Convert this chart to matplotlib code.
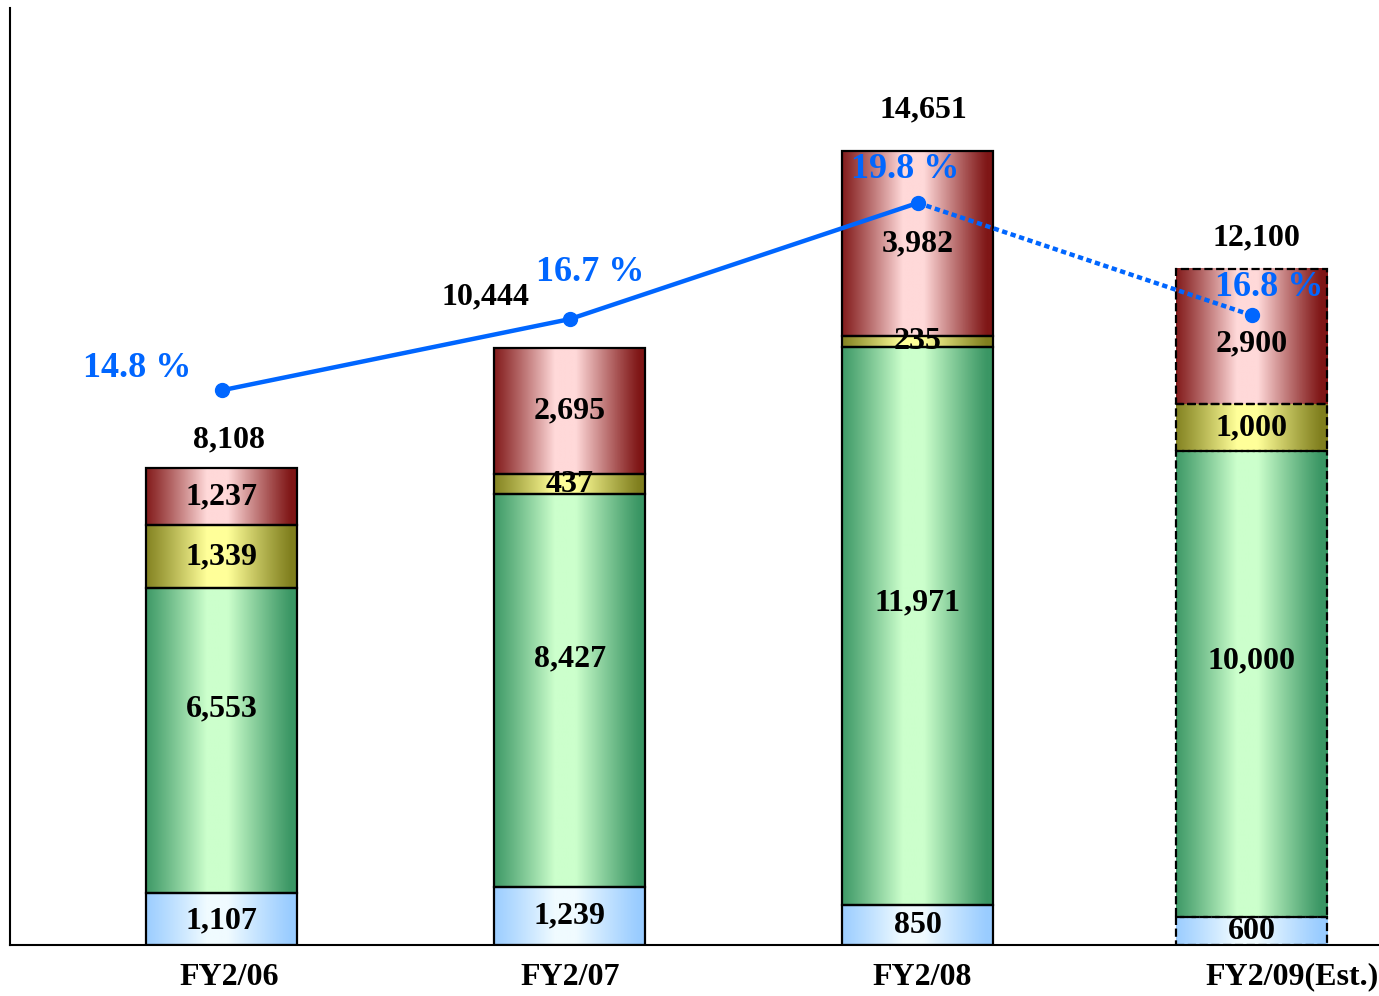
import numpy as np
import matplotlib.pyplot as plt
from matplotlib.colors import to_rgb

plt.rcParams['font.family'] = ['Liberation Serif', 'DejaVu Serif']
plt.rcParams['font.weight'] = 'bold'

# data
categories = ['FY2/06', 'FY2/07', 'FY2/08', 'FY2/09(Est.)']
seg_blue = [1107, 1239, 850, 600]
seg_green = [6553, 8427, 11971, 10000]
seg_yellow = [1339, 437, 235, 1000]
seg_red = [1237, 2695, 3982, 2900]
totals = [8108, 10444, 14651, 12100]
margin_pct = [14.8, 16.7, 19.8, 16.8]

# layout / style
xs = np.array([0, 1, 2, 2.96])
bar_w = 0.434
edge_cols = ['#99CCFF', '#3A9664', '#807F1E', '#7F1616']
mid_cols = ['#F0FBFF', '#CCFFCC', '#FFFF99', '#FFD9D9']
line_col = '#0066FF'
total_off = [(7, 28), (-84, 51), (5, 41), (4, 31)]   # px
pct_off = [(-85, 22), (20, 47), (-13, 33), (17, 28)]  # px
cat_off = [7, 0, 4, 40]  # px
# vertical nudge of segment labels (px), per segment kind then bar
lab_dy = [[-2, 0, 0, 0], [32, 32, 23, 23], [0, 0, 0, 0], [0, 0, 0, -7]]
fs = 23


def grad_img(c0, c1, n=200):
    u = np.linspace(0, 1, n)
    f = np.clip(1 - (np.abs(u - 0.47) - 0.07) / 0.42, 0, 1)
    f = f ** 1.1
    a, b = np.array(to_rgb(c0)), np.array(to_rgb(c1))
    return (a[None, :] * (1 - f[:, None]) + b[None, :] * f[:, None])[None, :, :]


fig = plt.figure(figsize=(13.79, 9.96), dpi=100)
ax = fig.add_axes([10 / 1379, 1 - 945 / 996, 1 - 10 / 1379, (945 - 8) / 996])
ax.set_xlim(-0.609, 3.325)
ax.set_ylim(0, 20100)

segs = [seg_blue, seg_green, seg_yellow, seg_red]
px = 0.72  # px -> points
for i, x in enumerate(xs):
    bottom = 0
    ls = '--' if i == 3 else '-'
    for k, s in enumerate(segs):
        v = s[i]
        ax.imshow(grad_img(edge_cols[k], mid_cols[k]), aspect='auto',
                  extent=(x - bar_w / 2, x + bar_w / 2, bottom, bottom + v),
                  zorder=2, interpolation='bilinear')
        ax.bar(x, v, bar_w, bottom=bottom, facecolor='none', edgecolor='black',
               linewidth=1.6, linestyle=ls, zorder=3)
        ax.annotate(f'{v:,}', (x, bottom + v / 2), xytext=(0, lab_dy[k][i] * px),
                    textcoords='offset points', ha='center', va='center',
                    fontsize=fs, fontweight='bold', zorder=5)
        bottom += v
    ax.annotate(f'{totals[i]:,}', (x, bottom), xytext=(total_off[i][0] * px, total_off[i][1] * px),
                textcoords='offset points', ha='center', va='center', fontsize=fs, fontweight='bold')
    ax.annotate(categories[i], (x, 0), xytext=(cat_off[i] * px, -32 * px),
                textcoords='offset points', ha='center', va='center', fontsize=fs, fontweight='bold',
                annotation_clip=False)

ax.set_xticks([])
ax.set_yticks([])
for sp in ['top', 'right']:
    ax.spines[sp].set_visible(False)
ax.spines['left'].set_linewidth(1.5)
ax.spines['bottom'].set_linewidth(1.5)

ax2 = ax.twinx()
ax2.set_ylim(0, 25)
ax2.axis('off')
ax2.plot(xs[:3], margin_pct[:3], color=line_col, lw=3.2, zorder=6)
ax2.plot(xs[2:], margin_pct[2:], color=line_col, lw=3.2, linestyle=(0, (1.2, 0.8)), zorder=6)
ax2.plot(xs, margin_pct, 'o', color=line_col, markersize=10, zorder=7)
for i, x in enumerate(xs):
    ax2.annotate(f'{margin_pct[i]:.1f} %', (x, margin_pct[i]),
                 xytext=(pct_off[i][0] * px, pct_off[i][1] * px), textcoords='offset points',
                 ha='center', va='center', fontsize=26, fontweight='bold', color=line_col, zorder=8)

fig.savefig('out.png', dpi=100)
